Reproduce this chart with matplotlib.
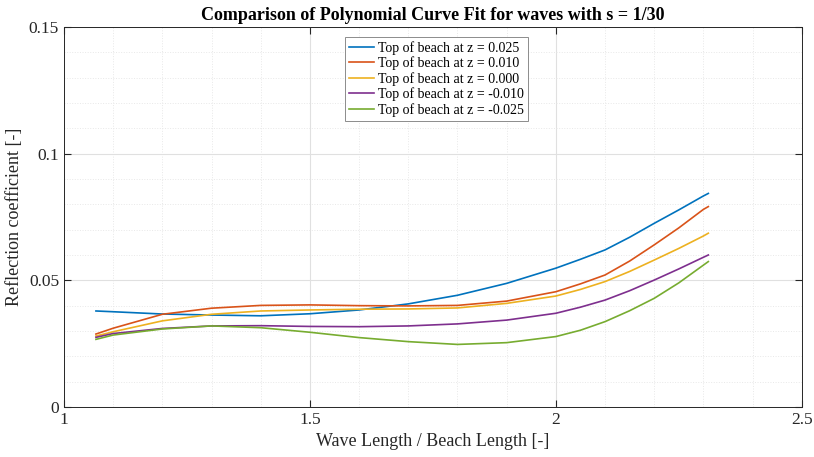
import numpy as np
import matplotlib
matplotlib.use("Agg")
import matplotlib.pyplot as plt
from matplotlib.ticker import MultipleLocator, FuncFormatter

plt.rcParams['font.family'] = ['Liberation Serif', 'DejaVu Serif']

# values
x = [1.065, 1.1, 1.2, 1.3, 1.4, 1.5, 1.6, 1.7, 1.8, 1.9, 2.0, 2.05, 2.1, 2.15,
     2.2, 2.25, 2.3, 2.31]

z_p025 = [0.0379, 0.0376, 0.0367, 0.0363, 0.0360, 0.0368, 0.0383, 0.0407, 0.0441,
          0.0488, 0.0548, 0.0583, 0.0620, 0.0670, 0.0725, 0.0778, 0.0833, 0.0843]
z_p010 = [0.0288, 0.0311, 0.0366, 0.0390, 0.0401, 0.0403, 0.0400, 0.0399, 0.0401,
          0.0418, 0.0455, 0.0486, 0.0521, 0.0576, 0.0640, 0.0707, 0.0780, 0.0791]
z_000 = [0.0280, 0.0297, 0.0340, 0.0366, 0.0379, 0.0383, 0.0386, 0.0387, 0.0391,
         0.0409, 0.0438, 0.0464, 0.0495, 0.0535, 0.0580, 0.0626, 0.0675, 0.0686]
z_m010 = [0.0275, 0.0290, 0.0310, 0.0320, 0.0321, 0.0318, 0.0317, 0.0320, 0.0328,
          0.0343, 0.0370, 0.0394, 0.0422, 0.0459, 0.0501, 0.0545, 0.0591, 0.0600]
z_m025 = [0.0267, 0.0284, 0.0308, 0.0320, 0.0313, 0.0295, 0.0274, 0.0258, 0.0247,
          0.0254, 0.0278, 0.0303, 0.0337, 0.0380, 0.0429, 0.0490, 0.0560, 0.0574]

labels = ["Top of beach at z = 0.025", "Top of beach at z = 0.010",
          "Top of beach at z = 0.000", "Top of beach at z = -0.010",
          "Top of beach at z = -0.025"]
colors = ["#0072BD", "#D95319", "#EDB120", "#7E2F8E", "#77AC30"]

fig = plt.figure(figsize=(8.14, 4.57), dpi=100)
ax = fig.add_axes([0.0786, 0.1094, 0.9064, 0.8316])

for ys, lab, c in zip([z_p025, z_p010, z_000, z_m010, z_m025], labels, colors):
    ax.plot(x, ys, color=c, lw=1.2, label=lab)

ax.set_xlim(1, 2.5)
ax.set_ylim(0, 0.15)
ax.xaxis.set_major_locator(MultipleLocator(0.5))
ax.xaxis.set_minor_locator(MultipleLocator(0.1))
ax.yaxis.set_major_locator(MultipleLocator(0.05))
ax.yaxis.set_minor_locator(MultipleLocator(0.01))
ax.xaxis.set_major_formatter(FuncFormatter(lambda v, p: f"{v:g}"))
ax.yaxis.set_major_formatter(FuncFormatter(lambda v, p: f"{v:g}"))

ax.grid(which="major", color="#e0e0e0", lw=0.8)
ax.grid(which="minor", color="#e8e8e8", lw=0.7, ls=":")
ax.tick_params(which="both", direction="in", top=True, right=True, colors="#262626",
               labelsize=12.5)
ax.tick_params(which="minor", length=0)
ax.tick_params(which="major", length=5)
for s in ax.spines.values():
    s.set_color("#262626")
    s.set_linewidth(0.7)

ax.set_title("Comparison of Polynomial Curve Fit for waves with s = 1/30",
             fontsize=13, fontweight="bold", pad=5)
ax.set_xlabel("Wave Length / Beach Length [-]", fontsize=13, color="#262626")
ax.set_ylabel("Reflection coefficient [-]", fontsize=13, color="#262626")

leg = ax.legend(loc="upper left", bbox_to_anchor=(0.381, 0.974), borderaxespad=0,
                fontsize=10, frameon=True, fancybox=False, framealpha=1,
                edgecolor="#8c8c8c", handlelength=1.75, borderpad=0.3,
                labelspacing=0.12, handletextpad=0.3)
leg.get_frame().set_linewidth(0.7)

fig.savefig("out.png", dpi=100)
